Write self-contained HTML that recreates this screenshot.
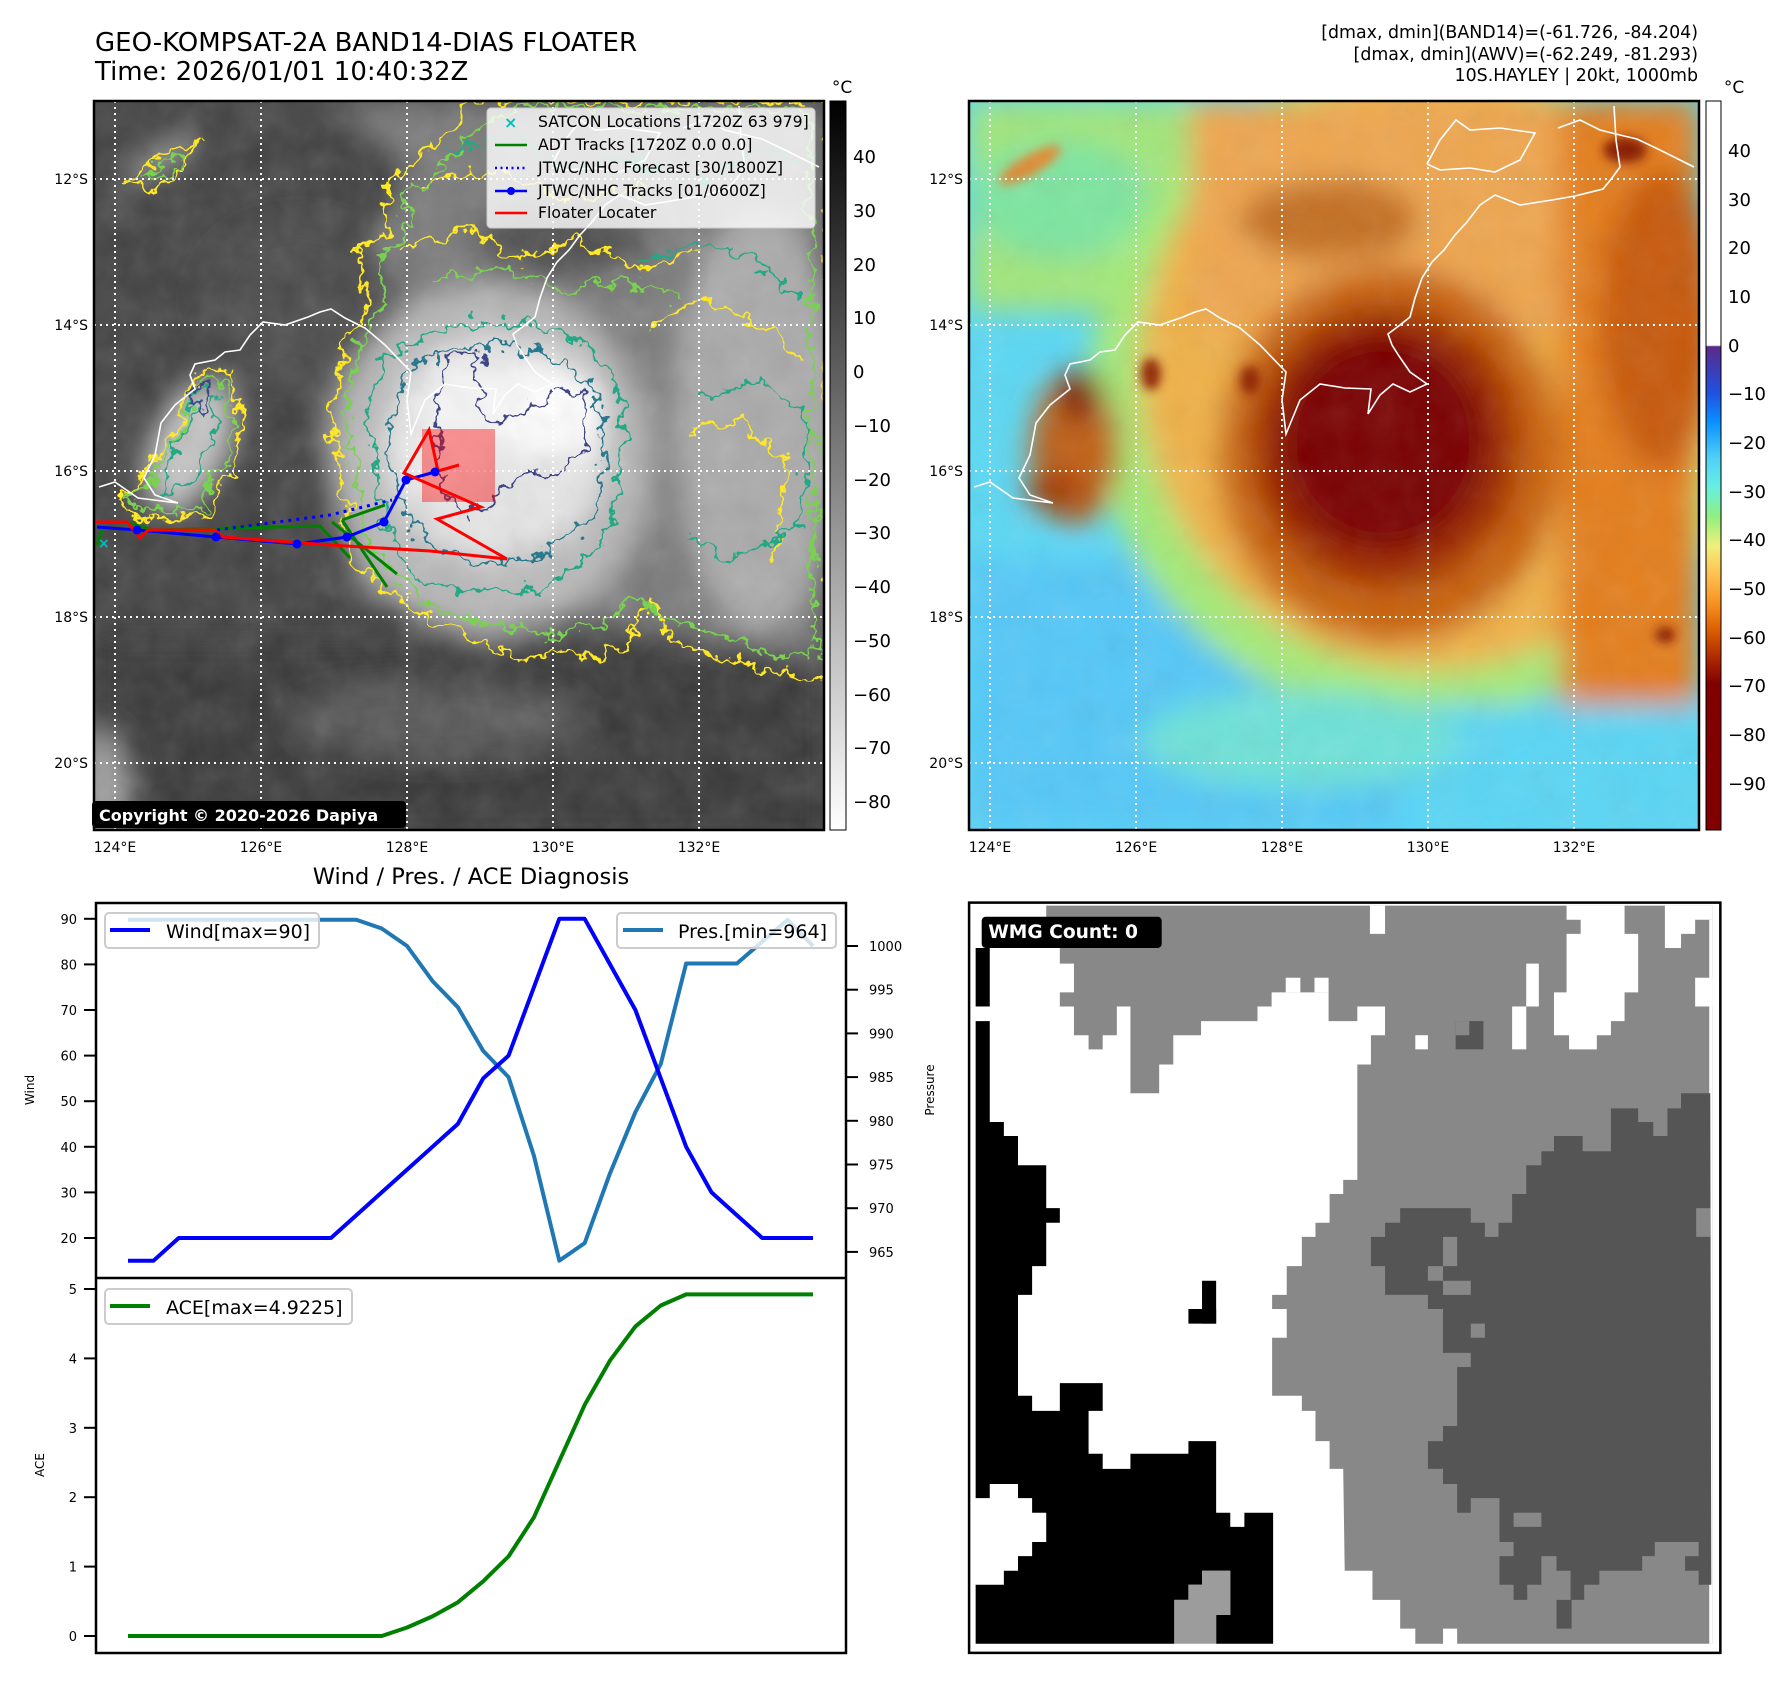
<!DOCTYPE html>
<html><head><meta charset="utf-8">
<style>
html,body{margin:0;padding:0;background:#fff;}
svg{display:block;font-family:"DejaVu Sans","Liberation Sans",sans-serif;}
</style></head>
<body>
<svg id="root" width="1788" height="1690" viewBox="0 0 1788 1690" xmlns="http://www.w3.org/2000/svg">
<defs>
  <clipPath id="clipL"><rect x="94" y="101" width="730" height="729"/></clipPath>
  <clipPath id="clipR"><rect x="969" y="101" width="730" height="729"/></clipPath>
  <filter id="blur" x="-20%" y="-20%" width="140%" height="140%"><feGaussianBlur stdDeviation="14"/></filter>
  <filter id="blurS" x="-20%" y="-20%" width="140%" height="140%"><feGaussianBlur stdDeviation="5"/></filter>
  <filter id="wig" x="-10%" y="-10%" width="120%" height="120%">
    <feTurbulence type="fractalNoise" baseFrequency="0.06" numOctaves="3" seed="4" result="n"/>
    <feDisplacementMap in="SourceGraphic" in2="n" scale="30" xChannelSelector="R" yChannelSelector="G"/>
  </filter>
  <filter id="tex"><feTurbulence type="fractalNoise" baseFrequency="0.03" numOctaves="3" seed="7"/><feColorMatrix type="saturate" values="0"/></filter>
  <linearGradient id="cbGray" x1="0" y1="0" x2="0" y2="1">
    <stop offset="0" stop-color="#000"/><stop offset="1" stop-color="#fff"/>
  </linearGradient>
  <linearGradient id="cbColor" x1="0" y1="0" x2="0" y2="1">
    <stop offset="0" stop-color="#fff"/><stop offset="0.335" stop-color="#fff"/>
    <stop offset="0.337" stop-color="#5a2a8a"/><stop offset="0.40" stop-color="#2050e0"/>
    <stop offset="0.44" stop-color="#0a90ff"/><stop offset="0.49" stop-color="#50d0f8"/>
    <stop offset="0.53" stop-color="#66f0e0"/><stop offset="0.57" stop-color="#90f080"/>
    <stop offset="0.61" stop-color="#f0f07a"/><stop offset="0.65" stop-color="#ffc050"/>
    <stop offset="0.69" stop-color="#f89020"/><stop offset="0.73" stop-color="#d85800"/>
    <stop offset="0.77" stop-color="#a82000"/><stop offset="0.80" stop-color="#800000"/>
    <stop offset="1" stop-color="#800000"/>
  </linearGradient>
  <path id="coast" fill="none" stroke="#fff" stroke-width="1.6" d="M974,487 L990,482 L1013,498 L1053,503 L1030,495 L1019,478 L1030,455 L1036,423 L1050,405 L1070,389 L1065,375 L1070,364 L1090,360 L1100,352 L1115,350 L1125,335 L1138,322 L1160,325 L1183,317 L1195,312 L1206,309 L1220,318 L1240,328 L1260,345 L1286,372 L1282,400 L1286,434 L1300,400 L1320,384 L1345,388 L1371,389 L1368,414 L1380,395 L1393,384 L1410,392 L1427,384 L1410,372 L1399,356 L1392,345 L1388,334 L1400,325 L1410,317 L1415,298 L1422,278 L1432,262 L1444,250 L1455,235 L1467,222 L1480,205 L1495,195 L1520,205 L1552,200 L1575,196 L1603,189 L1612,178 L1620,167 L1616,140 L1614,106 M1427,164 L1440,140 L1456,120 L1470,130 L1500,128 L1535,133 L1520,160 L1495,172 L1470,168 L1440,170 L1427,164 M1558,128 L1580,120 L1600,130 L1620,135 L1637,139 L1660,150 L1680,160 L1694,167"/>
</defs>

<!-- Titles -->
<text x="95" y="51" font-size="26" fill="#000">GEO-KOMPSAT-2A BAND14-DIAS FLOATER</text>
<text x="95" y="80" font-size="26" fill="#000">Time: 2026/01/01 10:40:32Z</text>
<g font-size="17.4" text-anchor="end" fill="#000">
  <text x="1698" y="38">[dmax, dmin](BAND14)=(-61.726, -84.204)</text>
  <text x="1698" y="60">[dmax, dmin](AWV)=(-62.249, -81.293)</text>
  <text x="1698" y="81">10S.HAYLEY | 20kt, 1000mb</text>
</g>

<!-- LEFT MAP -->
<g clip-path="url(#clipL)">
  <rect x="94" y="101" width="730" height="729" fill="#414141"/>
  <g filter="url(#blur)">
    <rect x="94" y="640" width="730" height="200" fill="#383838"/>
    <path d="M330,101 L824,101 L824,660 L650,630 L360,600 L320,430 L350,280 L410,170 Z" fill="#7a7a7a"/>
    <ellipse cx="300" cy="300" rx="100" ry="80" fill="#4a4a4a"/>
    <ellipse cx="560" cy="240" rx="90" ry="40" fill="#505050"/>
    <ellipse cx="760" cy="420" rx="85" ry="210" fill="#aaaaaa"/>
    <ellipse cx="490" cy="460" rx="160" ry="175" fill="#b8b8b8"/>
    <ellipse cx="495" cy="448" rx="112" ry="112" fill="#e6e6e6"/>
    <ellipse cx="545" cy="410" rx="62" ry="45" fill="#fff"/>
    <ellipse cx="455" cy="420" rx="40" ry="70" fill="#f5f5f5"/>
    <ellipse cx="190" cy="445" rx="38" ry="72" fill="#c4c4c4" transform="rotate(25 190 445)"/>
    <ellipse cx="160" cy="160" rx="45" ry="10" fill="#b0b0b0" transform="rotate(-35 160 160)"/>
    <ellipse cx="100" cy="790" rx="25" ry="60" fill="#a0a0a0"/>
    <ellipse cx="440" cy="720" rx="150" ry="40" fill="#555"/>
  </g>
  <rect x="94" y="101" width="730" height="729" filter="url(#tex)" opacity="0.2"/>
  <g fill="none" stroke-width="2.6" filter="url(#wig)">
    <path stroke="#fde725" d="M345,500 L330,420 L345,340 L372,300 L356,250 L390,230 L385,180 L430,150 L462,110 L480,101 L830,101 L830,680 L760,668 L700,650 L672,640 L650,600 L630,640 L600,660 L560,650 L520,660 L480,640 L430,620 L390,590 L350,560 Z"/>
    <path stroke="#fde725" d="M400,250 L470,230 L520,260 L580,240 L640,270 L700,250 M420,180 L500,170 L560,200 L640,190 M650,330 L700,300 L760,320 L800,360 M690,430 L740,420 L790,470 L770,560"/>
    <path stroke="#7ad151" d="M360,500 L345,420 L360,345 L385,305 L375,255 L405,240 L405,195 L445,165 L480,125 L520,108 L810,110 L815,660 L760,650 L700,630 L660,620 L640,590 L610,620 L560,635 L490,625 L430,605 L395,575 L365,545 Z"/>
    <path stroke="#7ad151" d="M430,280 L500,270 L560,290 L620,280 L680,300"/>
    <path stroke="#22a884" d="M375,470 L368,410 L385,360 L420,335 L470,320 L530,322 L580,340 L615,380 L625,440 L615,510 L590,560 L540,590 L480,595 L420,580 L390,540 Z"/>
    <path stroke="#22a884" d="M450,150 L520,140 L560,170 L620,160 L700,180 L760,150 L815,160 M640,260 L700,240 L760,260 L800,300 M700,400 L760,380 L810,420 L800,520 L740,560 L690,540"/>
    <path stroke="#2a788e" d="M392,470 L392,410 L410,370 L450,350 L510,345 L565,360 L600,400 L605,460 L590,520 L545,555 L490,565 L440,550 L410,520 Z"/>
    <path stroke="#414487" d="M435,400 L445,360 L480,355 L480,410 L500,425 L540,400 L575,385 L590,410 L585,450 L560,470 L520,475 L490,500 L470,515 L450,500 L440,470 Z"/>
    <path stroke="#fde725" d="M207,368 L228,372 L232,400 L240,405 L238,470 L220,480 L210,510 L170,520 L130,515 L120,500 L140,490 L145,470 L160,450 L175,430 L185,400 L195,385 Z"/>
    <path stroke="#7ad151" d="M207,378 L222,380 L226,405 L230,410 L228,465 L212,475 L202,505 L170,512 L135,508 L128,500 L148,488 L152,470 L168,450 L182,430 L190,400 L198,388 Z"/>
    <path stroke="#22a884" d="M200,390 L215,395 L215,440 L200,470 L180,490 L160,495 L170,460 L185,430 Z"/>
    <path stroke="#414487" d="M198,385 L210,388 L205,410 L195,410 Z"/>
    <path stroke="#fde725" d="M130,180 L170,150 L195,145 L185,170 L150,190 Z"/>
    <path stroke="#7ad151" d="M145,175 L175,155 L188,158 L178,172 Z"/>
  </g>
  <use href="#coast" transform="translate(-875,0)"/>
  <g stroke="#fff" stroke-width="2" stroke-dasharray="2,4">
    <line x1="94" y1="179" x2="824" y2="179"/><line x1="94" y1="325" x2="824" y2="325"/><line x1="94" y1="471" x2="824" y2="471"/><line x1="94" y1="617" x2="824" y2="617"/><line x1="94" y1="763" x2="824" y2="763"/>
    <line x1="115" y1="101" x2="115" y2="830"/><line x1="261" y1="101" x2="261" y2="830"/><line x1="407" y1="101" x2="407" y2="830"/><line x1="553" y1="101" x2="553" y2="830"/><line x1="699" y1="101" x2="699" y2="830"/>
  </g>
  <rect x="422" y="429" width="73" height="73" fill="rgba(255,0,0,0.4)"/>
  <g fill="none" stroke-width="3">
    <path stroke="#008000" d="M97,545 L102,530 M130,523 L153,530 L320,526 L350,558 M332,522 L397,574 M342,520 L387,587 M342,520 L385,505"/>
    <path stroke="#0000ff" stroke-dasharray="3,5" d="M217,530 L330,515 L392,500"/>
    <path stroke="#0000ff" d="M97,527 L137,530 L216,537 L297,544 L347,537 L384,522 L406,480 L435,472"/>
    <path stroke="#ff0000" d="M94,522 L127,522 L140,538 L148,530 L215,530 L223,537 L330,545 L430,551 L507,559 L437,519 L481,507 L404,473 L429,430 L438,471 L459,465"/>
  </g>
  <g fill="#0000ff">
    <circle cx="137" cy="530" r="4.5"/><circle cx="216" cy="537" r="4.5"/><circle cx="297" cy="544" r="4.5"/><circle cx="347" cy="537" r="4.5"/><circle cx="384" cy="522" r="4.5"/><circle cx="406" cy="480" r="4.5"/><circle cx="435" cy="472" r="4.5"/>
  </g>
  <text x="98" y="548" font-size="14" fill="#00bfbf" font-weight="bold">×</text>
</g>
<rect x="94" y="101" width="730" height="729" fill="none" stroke="#000" stroke-width="2.5"/>
<!-- left legend -->
<g>
  <rect x="487" y="108" width="328" height="120" rx="4" fill="rgba(255,255,255,0.8)" stroke="#ccc"/>
  <text x="504" y="128" font-size="16" font-weight="bold" fill="#00bfbf">×</text>
  <line x1="495" y1="145" x2="527" y2="145" stroke="#008000" stroke-width="2.5"/>
  <line x1="495" y1="168" x2="527" y2="168" stroke="#0000ff" stroke-width="2.5" stroke-dasharray="2,3.5"/>
  <line x1="495" y1="191" x2="527" y2="191" stroke="#0000ff" stroke-width="2.5"/><circle cx="511" cy="191" r="4" fill="#0000ff"/>
  <line x1="495" y1="213" x2="527" y2="213" stroke="#ff0000" stroke-width="2.5"/>
  <g font-size="15.7" fill="#000">
    <text x="538" y="127">SATCON Locations [1720Z 63 979]</text>
    <text x="538" y="150">ADT Tracks [1720Z 0.0 0.0]</text>
    <text x="538" y="173">JTWC/NHC Forecast [30/1800Z]</text>
    <text x="538" y="196">JTWC/NHC Tracks [01/0600Z]</text>
    <text x="538" y="218">Floater Locater</text>
  </g>
</g>
<g>
  <rect x="92" y="801" width="314" height="27" rx="4" fill="#000"/>
  <text x="99" y="821" font-size="16" font-weight="bold" fill="#fff">Copyright © 2020-2026 Dapiya</text>
</g>
<g font-size="14" fill="#000">
  <g text-anchor="end"><text x="88" y="184">12°S</text><text x="88" y="330">14°S</text><text x="88" y="476">16°S</text><text x="88" y="622">18°S</text><text x="88" y="768">20°S</text></g>
  <g text-anchor="middle"><text x="115" y="852">124°E</text><text x="261" y="852">126°E</text><text x="407" y="852">128°E</text><text x="553" y="852">130°E</text><text x="699" y="852">132°E</text></g>
</g>
<!-- left colorbar -->
<g>
  <rect x="830" y="101" width="16" height="729" fill="url(#cbGray)" stroke="#000" stroke-width="1"/>
  <text x="842" y="93" font-size="17" text-anchor="middle">°C</text>
  <g font-size="18" fill="#000">
    <text x="853" y="163">40</text><text x="853" y="217">30</text><text x="853" y="271">20</text><text x="853" y="324">10</text><text x="853" y="378">0</text>
    <text x="853" y="432">−10</text><text x="853" y="486">−20</text><text x="853" y="539">−30</text><text x="853" y="593">−40</text><text x="853" y="647">−50</text>
    <text x="853" y="701">−60</text><text x="853" y="754">−70</text><text x="853" y="808">−80</text>
  </g>
</g>

<!-- RIGHT MAP -->
<g clip-path="url(#clipR)">
  <rect x="969" y="101" width="730" height="729" fill="#5cd8f4"/>
  <g filter="url(#blur)">
    <rect x="969" y="560" width="470" height="270" fill="#55c8f8"/>
    <rect x="969" y="101" width="340" height="210" fill="#a2e67a"/>
    <ellipse cx="1060" cy="200" rx="90" ry="60" fill="#7ee6a0"/>
    <ellipse cx="1420" cy="390" rx="330" ry="330" fill="#a4ea78"/>
    <ellipse cx="1430" cy="370" rx="290" ry="300" fill="#f0b24a"/>
    <rect x="1190" y="101" width="509" height="230" fill="#eea650"/>
    <rect x="1560" y="101" width="139" height="610" fill="#e47e1c"/>
    <ellipse cx="1660" cy="320" rx="60" ry="150" fill="#c85a0a"/>
    <ellipse cx="1330" cy="220" rx="90" ry="40" fill="#c47020"/>
    <ellipse cx="1390" cy="455" rx="172" ry="188" fill="#c96410"/>
    <ellipse cx="1385" cy="447" rx="135" ry="142" fill="#a02a00"/>
    <ellipse cx="1383" cy="442" rx="105" ry="110" fill="#7a0000"/>
    <ellipse cx="1075" cy="450" rx="45" ry="75" fill="#c06018"/>
    <ellipse cx="1080" cy="395" rx="20" ry="28" fill="#7a0000"/>
    <ellipse cx="1055" cy="492" rx="30" ry="18" fill="#a03000"/>
    <rect x="1400" y="705" width="299" height="125" fill="#5ad6f5"/>
    <ellipse cx="1300" cy="740" rx="160" ry="50" fill="#6ee2d8"/>
  </g>
  <g filter="url(#blurS)">
    <ellipse cx="1151" cy="374" rx="10" ry="16" fill="#902000"/>
    <ellipse cx="1250" cy="380" rx="10" ry="14" fill="#902000"/>
    <ellipse cx="1625" cy="150" rx="22" ry="13" fill="#8a1a00"/>
    <ellipse cx="1665" cy="635" rx="10" ry="8" fill="#8a1a00"/>
    <ellipse cx="1030" cy="165" rx="35" ry="10" fill="#e08a30" transform="rotate(-30 1030 165)"/>
  </g>
  <rect x="969" y="101" width="730" height="729" filter="url(#tex)" opacity="0.12"/>
  <use href="#coast"/>
  <g stroke="#fff" stroke-width="2" stroke-dasharray="2,4">
    <line x1="969" y1="179" x2="1699" y2="179"/><line x1="969" y1="325" x2="1699" y2="325"/><line x1="969" y1="471" x2="1699" y2="471"/><line x1="969" y1="617" x2="1699" y2="617"/><line x1="969" y1="763" x2="1699" y2="763"/>
    <line x1="990" y1="101" x2="990" y2="830"/><line x1="1136" y1="101" x2="1136" y2="830"/><line x1="1282" y1="101" x2="1282" y2="830"/><line x1="1428" y1="101" x2="1428" y2="830"/><line x1="1574" y1="101" x2="1574" y2="830"/>
  </g>
</g>
<rect x="969" y="101" width="730" height="729" fill="none" stroke="#000" stroke-width="2.5"/>
<g font-size="14" fill="#000">
  <g text-anchor="end"><text x="963" y="184">12°S</text><text x="963" y="330">14°S</text><text x="963" y="476">16°S</text><text x="963" y="622">18°S</text><text x="963" y="768">20°S</text></g>
  <g text-anchor="middle"><text x="990" y="852">124°E</text><text x="1136" y="852">126°E</text><text x="1282" y="852">128°E</text><text x="1428" y="852">130°E</text><text x="1574" y="852">132°E</text></g>
</g>
<g>
  <rect x="1706" y="101" width="15" height="729" fill="url(#cbColor)" stroke="#000" stroke-width="1"/>
  <text x="1734" y="93" font-size="17" text-anchor="middle">°C</text>
  <g font-size="18" fill="#000">
    <text x="1728" y="157">40</text><text x="1728" y="206">30</text><text x="1728" y="254">20</text><text x="1728" y="303">10</text><text x="1728" y="352">0</text>
    <text x="1728" y="400">−10</text><text x="1728" y="449">−20</text><text x="1728" y="498">−30</text><text x="1728" y="546">−40</text><text x="1728" y="595">−50</text>
    <text x="1728" y="644">−60</text><text x="1728" y="692">−70</text><text x="1728" y="741">−80</text><text x="1728" y="790">−90</text>
  </g>
</g>

<!-- BOTTOM LEFT CHART -->
<text x="471" y="884" font-size="22.5" text-anchor="middle">Wind / Pres. / ACE Diagnosis</text>
<g id="chart"></g>
<rect x="96" y="903" width="750" height="750" fill="none" stroke="#000" stroke-width="2.5"/>
<line x1="96" y1="1278" x2="846" y2="1278" stroke="#000" stroke-width="2.5"/>
<text transform="translate(34,1090) rotate(-90)" font-size="12" text-anchor="middle">Wind</text>
<text transform="translate(934,1090) rotate(-90)" font-size="12" text-anchor="middle">Pressure</text>
<text transform="translate(44,1465) rotate(-90)" font-size="12" text-anchor="middle">ACE</text>
<g>
  <rect x="105" y="913" width="214" height="35" rx="4" fill="rgba(255,255,255,0.8)" stroke="#ccc" stroke-width="2"/>
  <line x1="110" y1="930" x2="150" y2="930" stroke="#0000ff" stroke-width="4"/>
  <text x="166" y="938" font-size="19">Wind[max=90]</text>
</g>
<g>
  <rect x="617" y="913" width="219" height="35" rx="4" fill="rgba(255,255,255,0.8)" stroke="#ccc" stroke-width="2"/>
  <line x1="623" y1="930" x2="663" y2="930" stroke="#1f77b4" stroke-width="4"/>
  <text x="678" y="938" font-size="19">Pres.[min=964]</text>
</g>
<g>
  <rect x="105" y="1289" width="247" height="35" rx="4" fill="rgba(255,255,255,0.8)" stroke="#ccc" stroke-width="2"/>
  <line x1="110" y1="1306" x2="150" y2="1306" stroke="#008000" stroke-width="4"/>
  <text x="166" y="1314" font-size="19">ACE[max=4.9225]</text>
</g>

<!-- BOTTOM RIGHT WMG PANEL -->
<svg x="959" y="889" width="779" height="779" viewBox="0 0 1545 1545">
  <rect x="33" y="33" width="1462" height="1464" fill="#fff"/>
  <path fill="#888" d="M173,33 L1495,33 L1495,1497 L988,1497 L988,1467 L960,1467 L960,1497 L905,1497 L905,1467 L875,1467 L875,1410 L820,1410 L820,1352 L765,1352 L762,1150 L735,1150 L735,1095 L707,1095 L707,1035 L680,1035 L680,1005 L621,1005 L621,890 L650,890 L650,833 L621,833 L621,805 L650,805 L650,748 L680,748 L680,690 L707,690 L707,662 L735,662 L735,605 L762,605 L762,577 L790,577 L790,348 L817,348 L817,290 L845,290 L845,233 L790,233 L790,262 L733,262 L733,205 L620,205 L620,233 L592,233 L592,262 L480,262 L480,290 L425,290 L425,348 L397,348 L397,405 L340,405 L340,233 L313,233 L313,290 L285,290 L285,318 L257,318 L257,290 L228,290 L228,233 L200,233 L200,205 L228,205 L228,148 L200,148 L200,117 L173,117 Z"/>
  <g fill="#fff">
    <rect x="648" y="176" width="29" height="29"/><rect x="705" y="176" width="28" height="29"/>
    <rect x="815" y="33" width="30" height="56"/>
    <path d="M1205,33 L1320,33 L1320,89 L1347,89 L1347,205 L1320,205 L1320,262 L1293,262 L1293,290 L1265,290 L1265,318 L1210,318 L1210,290 L1180,290 L1180,205 L1205,205 L1205,89 L1233,89 L1233,61 L1205,61 Z"/>
    <path d="M1400,33 L1495,33 L1495,61 L1460,61 L1460,89 L1432,89 L1432,117 L1400,117 Z"/>
    <rect x="1460" y="176" width="35" height="57"/><rect x="1488" y="61" width="7" height="1436"/>
    <rect x="1125" y="148" width="25" height="85"/><rect x="1097" y="233" width="28" height="85"/>
    <rect x="905" y="290" width="25" height="28"/>
  </g>
  <rect x="985" y="262" width="55" height="56" fill="#555"/><rect x="985" y="262" width="27" height="28" fill="#888"/>
  <path fill="#555" d="M1293,435 L1347,435 L1347,462 L1377,462 L1377,490 L1405,490 L1405,435 L1432,435 L1432,405 L1490,405 L1492,1380 L1467,1380 L1467,1352 L1440,1352 L1440,1323 L1467,1323 L1467,1295 L1380,1295 L1380,1323 L1355,1323 L1355,1352 L1270,1352 L1270,1380 L1240,1380 L1240,1410 L1215,1410 L1215,1467 L1185,1467 L1185,1410 L1213,1410 L1213,1352 L1185,1352 L1185,1323 L1155,1323 L1155,1380 L1127,1380 L1127,1410 L1100,1410 L1100,1380 L1072,1380 L1072,1323 L1100,1323 L1100,1295 L1072,1295 L1072,1208 L1015,1208 L1015,1237 L988,1237 L988,1180 L960,1180 L960,1150 L930,1150 L930,1095 L960,1095 L960,1065 L988,1065 L988,948 L1015,948 L1015,920 L960,920 L960,833 L930,833 L930,805 L845,805 L845,748 L817,748 L817,690 L845,690 L845,662 L875,662 L875,633 L1015,633 L1015,662 L1043,662 L1043,690 L1070,690 L1070,662 L1097,662 L1097,605 L1125,605 L1125,548 L1155,548 L1155,520 L1180,520 L1180,490 L1237,490 L1237,520 L1293,520 Z"/>
  <g fill="#888">
    <rect x="960" y="690" width="28" height="58"/><rect x="930" y="748" width="30" height="29"/><rect x="960" y="777" width="55" height="28"/>
    <rect x="1015" y="862" width="28" height="28"/><rect x="1462" y="633" width="28" height="57"/><rect x="1100" y="1237" width="55" height="28"/>
  </g>
  <g fill="#000">
    <rect x="33" y="117" width="28" height="116"/>
    <rect x="482" y="777" width="28" height="85"/><rect x="455" y="833" width="55" height="29"/>
    <path d="M33,262 L61,262 L61,462 L89,462 L89,490 L117,490 L117,548 L173,548 L173,633 L200,633 L200,662 L173,662 L173,748 L145,748 L145,805 L117,805 L117,1005 L145,1005 L145,1035 L200,1035 L200,980 L285,980 L285,1035 L257,1035 L257,1120 L285,1120 L285,1150 L340,1150 L340,1120 L455,1120 L455,1095 L510,1095 L510,1237 L538,1237 L538,1265 L566,1265 L566,1237 L623,1237 L623,1497 L510,1497 L510,1440 L538,1440 L538,1352 L482,1352 L482,1380 L455,1380 L455,1410 L427,1410 L427,1497 L33,1497 L33,1380 L89,1380 L89,1352 L117,1352 L117,1323 L145,1323 L145,1295 L173,1295 L173,1237 L145,1237 L145,1208 L117,1208 L117,1180 L61,1180 L61,1208 L33,1208 Z"/>
  </g>
  <path fill="#9c9c9c" d="M482,1352 L538,1352 L538,1440 L510,1440 L510,1497 L427,1497 L427,1410 L455,1410 L455,1380 L482,1380 Z"/>
  <rect x="20" y="27" width="1490" height="1488" fill="none" stroke="#000" stroke-width="5"/>
  <rect x="45" y="55" width="357" height="62" rx="8" fill="#000"/>
  <text x="58" y="97" font-size="37" font-weight="bold" fill="#fff">WMG Count: 0</text>
</svg>

<script>
const windValues = [15,15,20,20,20,20,20,20,20,25,30,35,40,45,55,60,75,90,90,80,70,55,40,30,25,20,20,20];
const presValues = [1003,1003,1003,1003,1003,1003,1003,1003,1003,1003,1002,1000,996,993,988,985,976,964,966,974,981,986.5,998,998,998,1000.5,1003,1000];
const aceValues = [0,0,0,0,0,0,0,0,0,0,0,0.1225,0.2825,0.485,0.7875,1.1475,1.71,2.52,3.33,3.97,4.46,4.7625,4.9225,4.9225,4.9225,4.9225,4.9225,4.9225];
const windTicks = [20,30,40,50,60,70,80,90];
const presTicks = [965,970,975,980,985,990,995,1000];
const aceTicks = [0,1,2,3,4,5];

const NS = 'http://www.w3.org/2000/svg';
const chart = document.getElementById('chart');
const xPos = i => 128 + i * (685 / 27);
const yWind = w => 1238 - (w - 20) * 4.56;
const yPres = p => 946 + (1000 - p) * 8.74;
const yAce = a => 1636 - a * 69.4;

function mk(tag, attrs) {
  const el = document.createElementNS(NS, tag);
  for (const k in attrs) el.setAttribute(k, attrs[k]);
  chart.appendChild(el);
  return el;
}

windTicks.forEach(v => {
  const t = mk('line', {x1: 84, x2: 96, y1: yWind(v), y2: yWind(v), stroke: '#000', 'stroke-width': 2});
  
  
  const l = mk('text', {x: 77, y: yWind(v) + 5, 'font-size': 13, 'text-anchor': 'end'});
  l.textContent = v;
  
  
});
presTicks.forEach(v => {
  const t = mk('line', {x1: 846, x2: 858, y1: yPres(v), y2: yPres(v), stroke: '#000', 'stroke-width': 2});
  
  
  const l = mk('text', {x: 869, y: yPres(v) + 5, 'font-size': 13});
  l.textContent = v;
  
  
});
aceTicks.forEach(v => {
  const t = mk('line', {x1: 84, x2: 96, y1: yAce(v), y2: yAce(v), stroke: '#000', 'stroke-width': 2});
  
  
  const l = mk('text', {x: 77, y: yAce(v) + 5, 'font-size': 13, 'text-anchor': 'end'});
  l.textContent = v;
  
  
});

const pPres = mk('polyline', {points: presValues.map((v, i) => xPos(i) + ',' + yPres(v)).join(' '), fill: 'none', stroke: '#1f77b4', 'stroke-width': 4, 'stroke-linejoin': 'round'});


const pWind = mk('polyline', {points: windValues.map((v, i) => xPos(i) + ',' + yWind(v)).join(' '), fill: 'none', stroke: '#0000ff', 'stroke-width': 4, 'stroke-linejoin': 'round'});


const pAce = mk('polyline', {points: aceValues.map((v, i) => xPos(i) + ',' + yAce(v)).join(' '), fill: 'none', stroke: '#008000', 'stroke-width': 4, 'stroke-linejoin': 'round'});


</script>
</svg>
</body></html>
